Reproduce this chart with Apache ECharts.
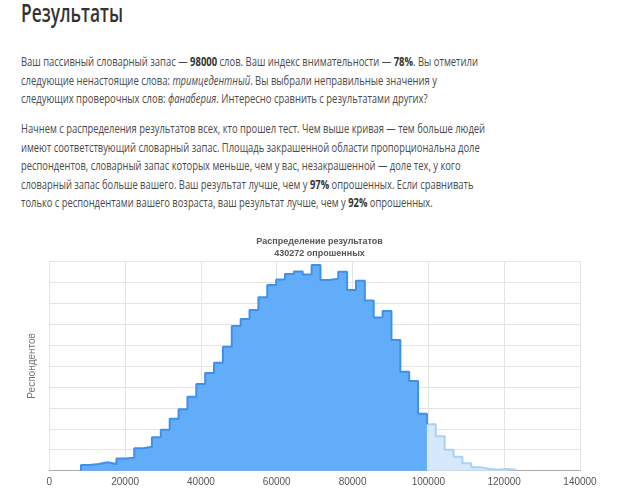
<!DOCTYPE html>
<html><head><meta charset="utf-8">
<script src="https://cdn.jsdelivr.net/npm/echarts@6/dist/echarts.min.js"></script>
<style>
body{margin:0;width:640px;height:496px;overflow:hidden;background:#fff;font-family:'Open Sans',sans-serif;position:relative}
.h{position:absolute;left:21px;top:-3px;font-size:25px;line-height:30px;font-weight:600;color:#333;white-space:nowrap;transform-origin:0 0}
.p{position:absolute;left:21px;font-size:13px;line-height:18.6px;color:#4a4a4a;white-space:nowrap;transform-origin:0 0}
.p b{color:#333}
#chart{position:absolute;left:0;top:220px;width:640px;height:276px}
</style></head>
<body>
<div class="h" id="h"><span>Результаты</span></div>
<div class="p" id="p1" style="top:52px"><span>Ваш пассивный словарный запас — <b>98000</b> слов. Ваш индекс внимательности — <b>78%</b>. Вы отметили</span><br>следующие ненастоящие слова: <i>тримцедентный</i>. Вы выбрали неправильные значения у<br>следующих проверочных слов: <i>фанаберия</i>. Интересно сравнить с результатами других?</div>
<div class="p" id="p2" style="top:119px"><span>Начнем с распределения результатов всех, кто прошел тест. Чем выше кривая — тем больше людей</span><br>имеют соответствующий словарный запас. Площадь закрашенной области пропорциональна доле<br>респондентов, словарный запас которых меньше, чем у вас, незакрашенной — доле тех, у кого<br>словарный запас больше вашего. Ваш результат лучше, чем у <b>97%</b> опрошенных. Если сравнивать<br>только с респондентами вашего возраста, ваш результат лучше, чем у <b>92%</b> опрошенных.</div>
<div id="chart"></div>
<script>
// bin edges (vocabulary size)
const binEdges = [8360, 10700, 13040, 15380, 17720, 20060, 22400, 24740, 27080, 29420,
  31760, 34100, 36440, 38780, 41120, 43460, 45800, 48140, 50480, 52820,
  55160, 57500, 59840, 62180, 64520, 66860, 69200, 71540, 73880, 76220,
  78560, 80900, 83240, 85580, 87920, 90260, 92600, 94940, 97280, 99620,
  101960, 104300, 106640, 108980, 111320, 113660, 116000, 118340, 120680, 123020];
// respondents per bin
const respondents = [540, 640, 800, 640, 1160, 1240, 2140, 2280, 3200, 3900,
  4960, 5860, 7060, 8260, 9320, 10300, 11820, 13800, 14460, 15320,
  16540, 17720, 18240, 18760, 19000, 18720, 19620, 18180, 18320, 18980,
  17240, 18120, 16240, 14620, 15240, 12460, 9440, 8560, 5420,
  4440, 3280, 2000, 1340, 700, 340, 180, 100, 160, 100];
const splitBin = 39; // first bin above the user's result
const xTicks = [0, 20000, 40000, 60000, 80000, 100000, 120000, 140000];
const titleLines = ['Распределение результатов', '430272 опрошенных'];
const yName = 'Респондентов';

function fit(id, target){
  const el = document.getElementById(id);
  const w = el.querySelector('span').getBoundingClientRect().width;
  el.style.transform = 'scaleX(' + (target / w) + ')';
}
fit('h', 102); fit('p1', 457); fit('p2', 464);

const below = [[binEdges[0], 0]];
for (let i = 0; i < splitBin; i++) below.push([binEdges[i], respondents[i]]);
below.push([binEdges[splitBin], respondents[splitBin]]);
const above = [];
for (let i = splitBin; i < respondents.length; i++) above.push([binEdges[i], respondents[i]]);
above.push([binEdges[respondents.length], respondents[respondents.length - 1]]);
above.push([binEdges[respondents.length], 0]);

const font = 'Liberation Sans, Arial, sans-serif';
const chart = echarts.init(document.getElementById('chart'), null, {renderer: 'canvas'});
chart.setOption({
  animation: false,
  title: {
    text: titleLines.join('\n'),
    left: 314.6, top: 11, textAlign: 'center',
    textStyle: {fontSize: 9, fontWeight: 'bold', color: '#555', lineHeight: 11.6, fontFamily: font}
  },
  grid: {left: 49.3, right: 60, top: 41, bottom: 25.3, containLabel: false},
  xAxis: {
    type: 'value', min: xTicks[0], max: xTicks[xTicks.length - 1], interval: xTicks[1] - xTicks[0],
    axisLine: {lineStyle: {color: '#aaa'}},
    axisTick: {show: false},
    splitLine: {lineStyle: {color: '#e4e4e4'}},
    axisLabel: {fontSize: 10, color: '#555', margin: 7, fontFamily: font, formatter: v => String(v)}
  },
  yAxis: {
    type: 'value', min: 0, max: 20000, interval: 2000,
    axisLine: {show: false}, axisTick: {show: false}, axisLabel: {show: false},
    splitLine: {lineStyle: {color: '#e4e4e4'}},
    name: yName, nameLocation: 'middle', nameGap: 12,
    nameTextStyle: {fontSize: 10, color: '#777', fontFamily: font}
  },
  series: [
    {type: 'line', step: 'end', symbol: 'none', data: above, z: 2,
     lineStyle: {color: '#a9d0f6', width: 2}, areaStyle: {color: '#d5e8fc', opacity: 1}},
    {type: 'line', step: 'end', symbol: 'none', data: below, z: 3,
     lineStyle: {color: '#3f90ea', width: 2}, areaStyle: {color: '#62adfa', opacity: 1}}
  ]
});
</script>
</body></html>
